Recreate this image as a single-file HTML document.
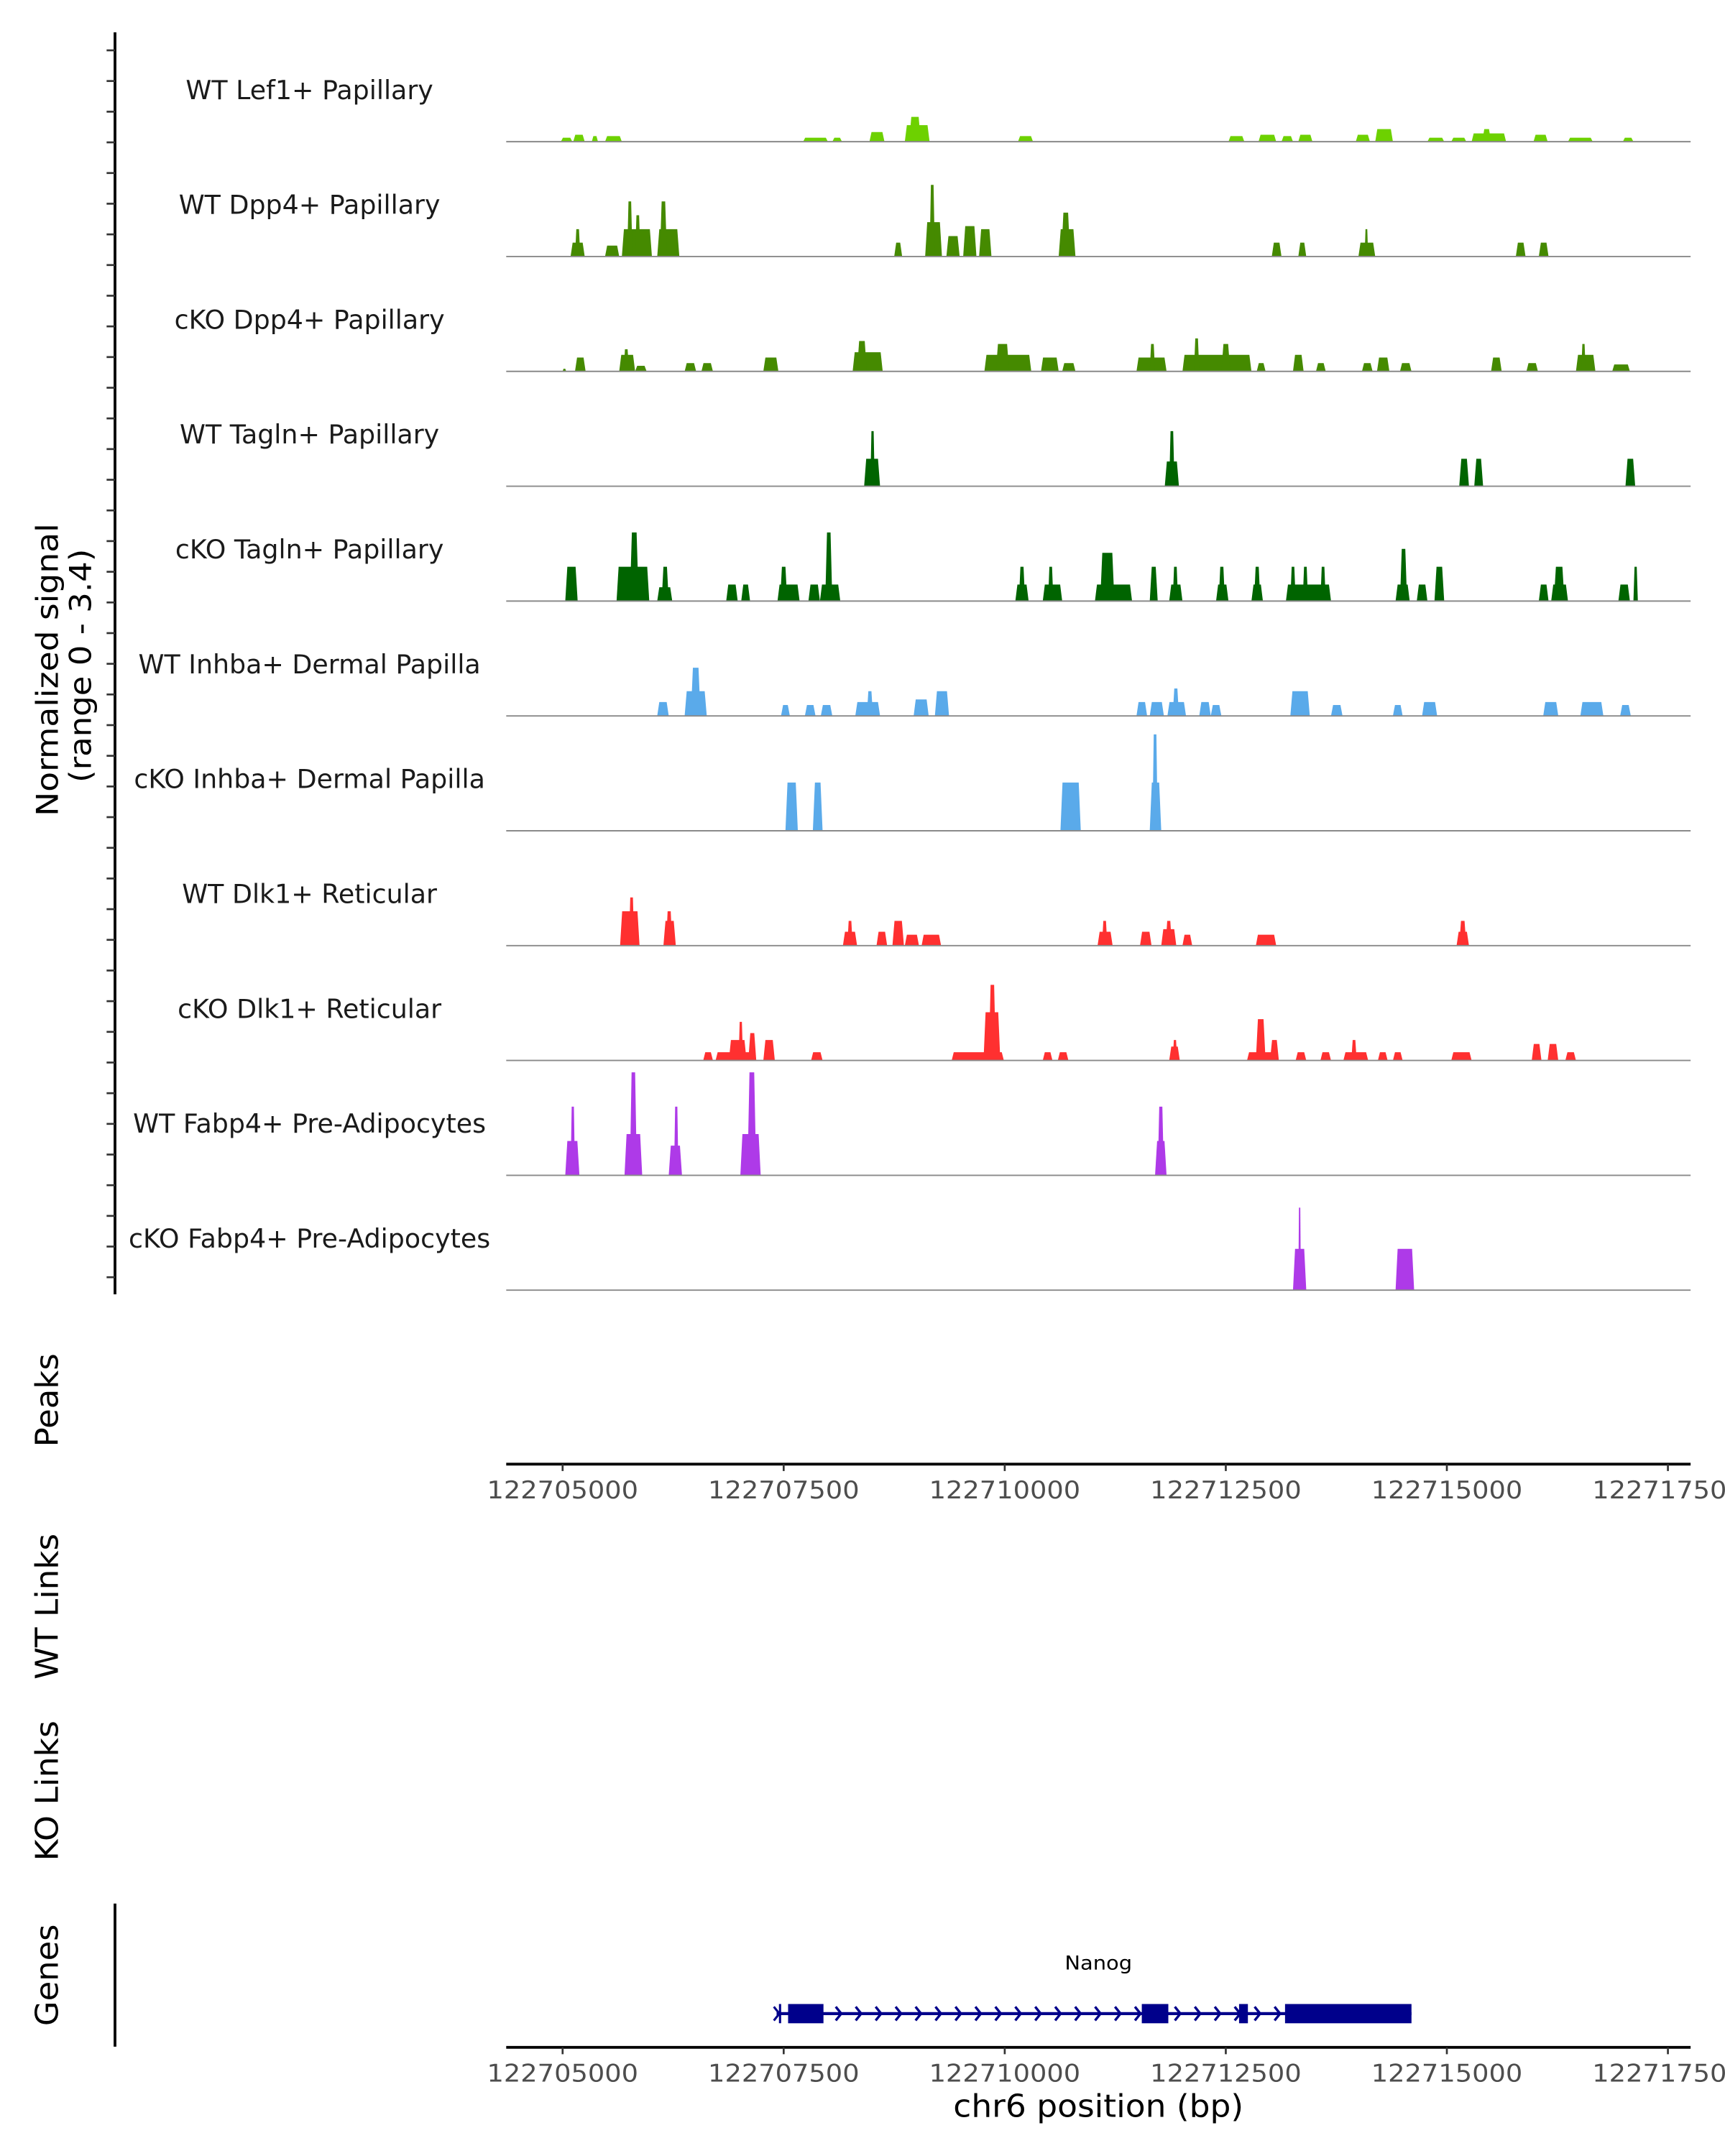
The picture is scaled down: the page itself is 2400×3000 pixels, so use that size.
<!DOCTYPE html>
<html><head><meta charset="utf-8"><style>
html,body{margin:0;padding:0;background:#fff;}
svg{display:block;font-family:"DejaVu Sans","Liberation Sans",sans-serif;}
</style></head><body>
<svg id="chart" width="2400" height="3000" viewBox="0 0 1254 1567.5" preserveAspectRatio="none" xmlns="http://www.w3.org/2000/svg">
<g id="tracks"></g>
<line x1="83.6" y1="23.5" x2="83.6" y2="941" stroke="#000" stroke-width="2"/>
<g id="yticks"></g>
<text transform="translate(42,487) rotate(-90)" text-anchor="middle" font-size="22" textLength="213" lengthAdjust="spacingAndGlyphs">Normalized signal</text>
<text transform="translate(66,484) rotate(-90)" text-anchor="middle" font-size="22" textLength="170" lengthAdjust="spacingAndGlyphs">(range 0 - 3.4)</text>
<text transform="translate(42,1018) rotate(-90)" text-anchor="middle" font-size="23" textLength="68" lengthAdjust="spacingAndGlyphs">Peaks</text>
<text transform="translate(42,1168) rotate(-90)" text-anchor="middle" font-size="23" textLength="106" lengthAdjust="spacingAndGlyphs">WT Links</text>
<text transform="translate(42,1302) rotate(-90)" text-anchor="middle" font-size="23" textLength="102" lengthAdjust="spacingAndGlyphs">KO Links</text>
<text transform="translate(42,1436) rotate(-90)" text-anchor="middle" font-size="23" textLength="74" lengthAdjust="spacingAndGlyphs">Genes</text>
<line x1="83.6" y1="1384" x2="83.6" y2="1488" stroke="#000" stroke-width="2"/>
<g id="xaxis1"></g>
<g id="xaxis2"></g>
<g id="gene"></g>
<text x="798.5" y="1432" text-anchor="middle" font-size="14" textLength="49" lengthAdjust="spacingAndGlyphs">Nanog</text>
<text x="798.5" y="1539" text-anchor="middle" font-size="23" textLength="211" lengthAdjust="spacingAndGlyphs">chr6 position (bp)</text>
</svg>
<script>
// data: peaks as [startKb, endKb, signal] relative to 122705000 bp
const trackNames = ["WT Lef1+ Papillary","WT Dpp4+ Papillary","cKO Dpp4+ Papillary","WT Tagln+ Papillary","cKO Tagln+ Papillary","WT Inhba+ Dermal Papilla","cKO Inhba+ Dermal Papilla","WT Dlk1+ Reticular","cKO Dlk1+ Reticular","WT Fabp4+ Pre-Adipocytes","cKO Fabp4+ Pre-Adipocytes"];
const trackColors = ["#6dd100","#458a00","#458a00","#006400","#006400","#5aaaea","#5aaaea","#ff3030","#ff3030","#ae3ae8","#ae3ae8"];
const lef1WT = [[-0.02,0.11,0.12],[0.12,0.25,0.21],[0.33,0.40,0.17],[0.48,0.67,0.17],[2.72,3.0,0.12],[3.05,3.16,0.12],[3.47,3.64,0.29],[3.87,4.15,0.5],[3.92,4.05,0.75],[5.15,5.32,0.17],[7.53,7.71,0.17],[7.87,8.07,0.21],[8.13,8.26,0.17],[8.32,8.48,0.21],[8.97,9.13,0.21],[9.19,9.39,0.38],[9.78,9.97,0.12],[10.05,10.22,0.12],[10.28,10.67,0.25],[10.4,10.5,0.38],[10.98,11.14,0.21],[11.37,11.65,0.12],[11.99,12.11,0.12]];
const dpp4WT = [[0.09,0.25,0.42],[0.14,0.2,0.83],[0.48,0.64,0.33],[0.67,1.01,0.83],[0.73,0.79,1.67],[0.82,0.88,1.25],[1.07,1.32,0.83],[1.1,1.18,1.67],[3.75,3.84,0.42],[4.1,4.29,1.04],[4.15,4.21,2.17],[4.34,4.49,0.62],[4.53,4.68,0.92],[4.71,4.85,0.83],[5.61,5.8,0.83],[5.64,5.74,1.33],[8.02,8.13,0.42],[8.32,8.41,0.42],[9.0,9.19,0.42],[9.07,9.11,0.83],[10.78,10.89,0.42],[11.04,11.15,0.42]];
const dpp4KO = [[0.0,0.04,0.08],[0.14,0.26,0.42],[0.64,0.82,0.5],[0.69,0.75,0.67],[0.82,0.95,0.17],[1.38,1.51,0.25],[1.57,1.7,0.25],[2.27,2.44,0.42],[3.28,3.62,0.58],[3.33,3.44,0.92],[4.77,5.3,0.5],[4.9,5.05,0.83],[5.41,5.61,0.42],[5.65,5.8,0.25],[6.49,6.83,0.42],[6.64,6.7,0.83],[7.01,7.79,0.5],[7.14,7.2,1.0],[7.45,7.55,0.83],[7.85,7.95,0.25],[8.26,8.38,0.5],[8.52,8.63,0.25],[9.04,9.16,0.25],[9.21,9.35,0.42],[9.47,9.6,0.25],[10.5,10.62,0.42],[10.9,11.03,0.25],[11.46,11.68,0.5],[11.52,11.57,0.83],[11.87,12.07,0.21]];
const taglnWT = [[3.41,3.59,0.83],[3.48,3.53,1.67],[6.81,6.97,0.75],[6.86,6.92,1.67],[10.14,10.25,0.83],[10.31,10.41,0.83],[12.02,12.13,0.83]];
const taglnKO = [[0.03,0.17,1.04],[0.61,0.98,1.04],[0.76,0.86,2.08],[1.07,1.24,0.42],[1.12,1.2,1.04],[1.85,1.98,0.5],[2.02,2.12,0.5],[2.43,2.68,0.5],[2.46,2.54,1.04],[2.78,2.91,0.5],[2.91,3.14,0.5],[2.97,3.05,2.08],[5.12,5.27,0.5],[5.16,5.23,1.04],[5.43,5.65,0.5],[5.49,5.55,1.04],[6.02,6.44,0.5],[6.08,6.24,1.46],[6.64,6.73,1.04],[6.86,7.01,0.5],[6.9,6.96,1.04],[7.39,7.53,0.5],[7.42,7.49,1.04],[7.79,7.92,0.5],[7.82,7.89,1.04],[8.18,8.69,0.5],[8.23,8.29,1.04],[8.37,8.43,1.04],[8.57,8.63,1.04],[9.42,9.58,0.5],[9.47,9.55,1.58],[9.66,9.78,0.5],[9.86,9.97,1.04],[11.04,11.15,0.5],[11.18,11.37,0.5],[11.21,11.33,1.04],[11.94,12.07,0.5],[12.11,12.16,1.04]];
const inhbaWT = [[1.07,1.2,0.42],[1.38,1.63,0.75],[1.45,1.56,1.46],[2.47,2.57,0.33],[2.74,2.86,0.33],[2.92,3.05,0.33],[3.31,3.59,0.42],[3.44,3.51,0.75],[3.97,4.14,0.5],[4.21,4.37,0.75],[6.49,6.61,0.42],[6.64,6.8,0.42],[6.84,7.05,0.42],[6.9,6.97,0.83],[7.2,7.33,0.42],[7.33,7.45,0.33],[8.23,8.45,0.75],[8.69,8.82,0.33],[9.39,9.5,0.33],[9.72,9.89,0.42],[11.09,11.26,0.42],[11.51,11.77,0.42],[11.96,12.08,0.33]];
const inhbaKO = [[2.52,2.66,1.46],[2.83,2.94,1.46],[5.63,5.86,1.46],[6.64,6.77,1.46],[6.67,6.73,2.92]];
const dlk1WT = [[0.65,0.87,1.04],[0.75,0.81,1.46],[1.14,1.28,0.75],[1.17,1.24,1.04],[3.17,3.33,0.42],[3.22,3.28,0.75],[3.55,3.67,0.42],[3.73,3.86,0.75],[3.87,4.03,0.33],[4.06,4.28,0.33],[6.05,6.22,0.42],[6.1,6.16,0.75],[6.53,6.66,0.42],[6.77,6.94,0.5],[6.82,6.89,0.75],[7.01,7.12,0.33],[7.84,8.07,0.33],[10.11,10.25,0.42],[10.14,10.22,0.75]];
const dlk1KO = [[1.59,1.7,0.25],[1.73,2.16,0.25],[1.88,2.08,0.62],[1.99,2.04,1.17],[2.1,2.19,0.83],[2.27,2.4,0.62],[2.81,2.94,0.25],[4.4,4.99,0.25],[4.76,4.95,1.46],[4.82,4.9,2.29],[5.43,5.54,0.25],[5.6,5.72,0.25],[6.86,6.98,0.42],[6.9,6.95,0.62],[7.74,8.1,0.25],[7.84,7.95,1.25],[8.0,8.1,0.62],[8.29,8.41,0.25],[8.57,8.69,0.25],[8.83,9.11,0.25],[8.92,8.98,0.62],[9.22,9.33,0.25],[9.39,9.5,0.25],[10.05,10.28,0.25],[10.96,11.07,0.5],[11.14,11.26,0.5],[11.34,11.46,0.25]];
const fabp4WT = [[0.03,0.19,1.04],[0.09,0.14,2.08],[0.7,0.9,1.25],[0.76,0.84,3.12],[1.2,1.35,0.9],[1.26,1.31,2.08],[2.01,2.24,1.25],[2.09,2.19,3.12],[6.7,6.83,1.04],[6.73,6.8,2.08]];
const fabp4KO = [[8.26,8.41,1.25],[8.32,8.35,2.5],[9.42,9.63,1.25]];
const trackPeaks = [lef1WT,dpp4WT,dpp4KO,taglnWT,taglnKO,inhbaWT,inhbaKO,dlk1WT,dlk1KO,fabp4WT,fabp4KO];
const xTicks = [122705000,122707500,122710000,122712500,122715000,122717500];
const xTickLabels = ["122705000","122707500","122710000","122712500","122715000","122717500"];
// gene model: [startKb, endKb] relative to 122705000
const geneSpan = [2.42,9.6];
const geneExons = [[2.55,2.95],[6.55,6.85],[7.65,7.75],[8.17,9.6]];

const NS="http://www.w3.org/2000/svg";
const X0=409, PX_PER_BP=160.7/2500, BASE=122705000;
function xScale(bp){return X0+(bp-BASE)*PX_PER_BP;}
function xKb(kb){return xScale(BASE+kb*1000);}
const SIG_PX=24;
function yScale(v,base){return base - v*SIG_PX;}
function mk(tag,attrs,parent){const e=document.createElementNS(NS,tag);for(const k in attrs)e.setAttribute(k,attrs[k]);parent.appendChild(e);return e;}

const tracksG=document.getElementById('tracks');
trackNames.forEach((name,i)=>{
  const base=103+i*83.5;
  const g=mk('g',{},tracksG);
  
  
  const t=mk('text',{x:225,y:base-31,'text-anchor':'middle','font-size':19,fill:'#1a1a1a'},g);
  
  
  t.textContent=name;
  trackPeaks[i].forEach(p=>{
    const x1=xKb(p[0]),x2=xKb(p[1]),y=yScale(p[2],base);
    const tp=Math.min(1.5,(x2-x1)/4);
    const poly=mk('polygon',{points:`${x1},${base} ${x1+tp},${y} ${x2-tp},${y} ${x2},${base}`,fill:trackColors[i]},g);
    
    
  });
  const bl=mk('line',{x1:368,x2:1229,y1:base,y2:base,stroke:'#8a8a8a','stroke-width':1},g);
  
  
});
const yt=document.getElementById('yticks');
for(let y=36.6;y<940;y+=22.3){
  const l=mk('line',{x1:77.5,x2:83.6,y1:y,y2:y,stroke:'#333','stroke-width':1.4},yt);
  
  
}
function xAxis(id,y){
  const g=document.getElementById(id);
  const ax=mk('line',{x1:368,x2:1229,y1:y,y2:y,stroke:'#000','stroke-width':2},g);
  
  
  xTicks.forEach((b,i)=>{
    const x=xScale(b);
    const tk=mk('line',{x1:x,x2:x,y1:y,y2:y+5,stroke:'#333','stroke-width':1.4},g);
    
    
    const tl=mk('text',{x:x,y:y+25,'text-anchor':'middle','font-size':17.5,fill:'#4d4d4d',textLength:110,lengthAdjust:'spacingAndGlyphs'},g);
    
    
    tl.textContent=xTickLabels[i];
  });
}
xAxis('xaxis1',1064.5);
xAxis('xaxis2',1488.5);
const gg=document.getElementById('gene');
const gy=1464;
const gx1=xKb(geneSpan[0]),gx2=xKb(geneSpan[1]);
const gl=mk('line',{x1:gx1,x2:gx2,y1:gy,y2:gy,stroke:'#00008b','stroke-width':2.2},gg);


const st=mk('path',{d:`M${gx1-2},${gy-5} L${gx1+2},${gy} L${gx1-2},${gy+5} M${gx1+2.5},${gy-7} L${gx1+2.5},${gy+7}`,stroke:'#00008b','stroke-width':1.6,fill:'none'},gg);


for(let x=gx1+17;x<gx2-3;x+=14.5){
  const c=mk('path',{d:`M${x-3},${gy-5} L${x+1},${gy} L${x-3},${gy+5}`,stroke:'#00008b','stroke-width':1.8,fill:'none'},gg);
  
  
}
geneExons.forEach(e=>{
  const x1=xKb(e[0]),x2=xKb(e[1]);
  const r=mk('rect',{x:x1,y:gy-7,width:x2-x1,height:14,fill:'#00008b'},gg);
  
  
});
</script>
</body></html>
